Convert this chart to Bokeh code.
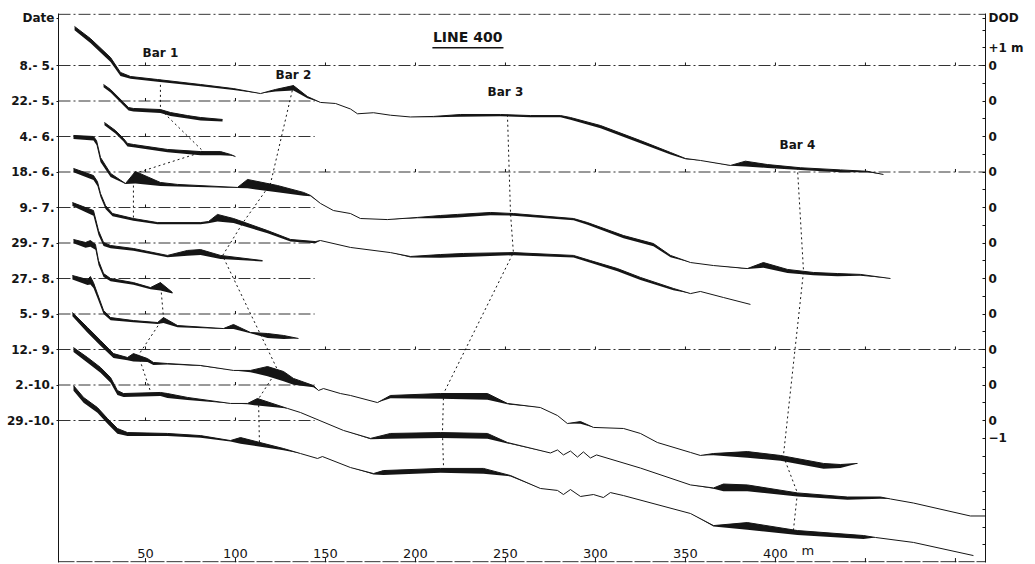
import numpy as np
from bokeh.plotting import figure
from bokeh.models import LinearAxis, FixedTicker, Span, Range1d
from bokeh.embed import file_html
from bokeh.resources import INLINE
from bokeh.core.properties import value

# ---------------- data ----------------
dates = ["8.- 5.", "22.- 5.", "4.- 6.", "18.- 6.", "9.- 7.", "29.- 7.",
         "27.- 8.", "5.- 9.", "12.- 9.", "2.-10.", "29.-10."]
SPACING = 2                       # m between successive DOD reference lines
full_ref = [True, False, False, True, False, False, False, False, True, False, False]
short_ref_end = 144.0             # m, end of the short reference lines
x_ticks = [50, 100, 150, 200, 250, 300, 350, 400, 450, 500]
x_tick_labels = ["50", "100", "150", "200", "250", "300", "350", "400"]

# distance (m), elevation rel. DOD (m), black (change) thickness (m)
x_0805 = [10.6, 19.4, 30.6, 36.1, 41.7, 56.7, 80.6, 98.9, 113.9, 122.2, 132.2, 140.0, 147.2, 155.6, 163.9, 167.8, 176.7, 186.1, 197.2, 210.0, 225.0, 247.2, 263.9, 280.6, 286.1, 302.8, 325.0, 341.7, 350.0, 358.3, 375.0, 383.3, 395.6, 413.9, 436.1, 451.1, 460.0]
z_0805 = [2.20, 1.52, 0.45, -0.39, -0.62, -0.79, -1.07, -1.30, -1.58, -1.35, -1.13, -1.75, -2.08, -2.14, -2.45, -2.72, -2.66, -2.80, -2.90, -2.87, -2.76, -2.76, -2.82, -2.82, -2.93, -3.38, -4.23, -4.90, -5.24, -5.35, -5.63, -5.39, -5.58, -5.76, -5.88, -5.96, -6.14]
t_0805 = [0.22, 0.25, 0.25, 0.20, 0.12, 0.12, 0.10, 0.08, 0.0, 0.11, 0.28, 0.10, 0.0, 0, 0, 0, 0, 0, 0, 0.05, 0.12, 0.10, 0.10, 0.10, 0.12, 0.15, 0.15, 0.12, 0.04, 0.0, 0.02, 0.30, 0.19, 0.12, 0.13, 0.05, 0.0]

x_2205 = [26.7, 30.6, 37.8, 40.6, 43.3, 58.3, 63.9, 73.3, 80.6, 92.8]
z_2205 = [0.93, 0.65, -0.08, -0.37, -0.42, -0.48, -0.65, -0.82, -0.93, -1.04]
t_2205 = [0.15, 0.17, 0.17, 0.17, 0.17, 0.20, 0.20, 0.17, 0.17, 0.12]

x_0406 = [27.2, 33.3, 37.8, 40.0, 43.3, 62.2, 80.6, 91.7, 97.2, 100.0]
z_0406 = [0.79, 0.34, -0.11, -0.39, -0.45, -0.73, -0.85, -0.85, -1.01, -1.13]
t_0406 = [0.15, 0.17, 0.17, 0.17, 0.15, 0.15, 0.20, 0.20, 0.08, 0.0]

x_1806 = [10.0, 21.1, 22.8, 25.0, 30.6, 38.9, 44.4, 58.3, 67.8, 101.1, 106.7, 123.3, 137.8, 141.7, 147.2, 154.4, 163.9, 169.4, 184.4, 201.1, 213.9, 223.3, 241.7, 254.4, 287.8, 295.6, 315.6, 332.2, 341.7, 352.8, 365.6, 384.4, 393.3, 406.7, 421.1, 434.4, 447.2, 463.9]
z_1806 = [2.06, 2.00, 1.77, 0.82, -0.08, -0.65, 0.03, -0.59, -0.70, -0.87, -0.42, -0.76, -1.15, -1.32, -1.77, -2.17, -2.34, -2.62, -2.68, -2.56, -2.45, -2.39, -2.28, -2.34, -2.62, -2.85, -3.58, -4.03, -4.70, -5.10, -5.27, -5.44, -5.10, -5.49, -5.66, -5.72, -5.77, -6.00]
t_1806 = [0.20, 0.22, 0.25, 0.25, 0.20, 0.03, 0.68, 0.20, 0.11, 0.03, 0.50, 0.38, 0.19, 0.05, 0.0, 0, 0, 0, 0, 0.05, 0.15, 0.18, 0.15, 0.12, 0.10, 0.12, 0.15, 0.15, 0.10, 0.0, 0, 0.03, 0.30, 0.20, 0.15, 0.15, 0.08, 0.0]

x_0907 = [10.0, 21.1, 23.3, 25.0, 27.8, 31.7, 43.3, 56.7, 80.6, 85.0, 90.0, 98.9, 117.8, 130.6, 144.4, 147.2, 163.9, 186.1, 197.2, 213.9, 226.7, 254.4, 287.8, 297.2, 312.2, 325.0, 343.3, 352.8, 358.3, 371.1, 386.1]
z_0907 = [2.20, 1.80, 1.46, 0.79, 0.11, -0.34, -0.62, -0.85, -0.85, -0.79, -0.39, -0.62, -1.30, -1.80, -1.92, -1.86, -2.25, -2.54, -2.76, -2.65, -2.59, -2.54, -2.70, -2.99, -3.44, -3.94, -4.56, -4.85, -4.73, -5.07, -5.46]
t_0907 = [0.22, 0.25, 0.25, 0.20, 0.20, 0.15, 0.12, 0.10, 0.10, 0.10, 0.40, 0.25, 0.15, 0.12, 0.10, 0.0, 0, 0, 0.05, 0.18, 0.20, 0.15, 0.12, 0.12, 0.15, 0.15, 0.10, 0.0, 0, 0, 0]

x_2907 = [9.4, 21.1, 23.9, 26.7, 30.6, 43.3, 62.2, 73.3, 80.6, 91.7, 115.0]
z_2907 = [2.28, 1.83, 0.70, 0.03, -0.14, -0.31, -0.70, -0.42, -0.37, -0.70, -0.99]
t_2907 = [0.20, 0.30, 0.25, 0.20, 0.15, 0.12, 0.10, 0.30, 0.30, 0.20, 0.05]

x_2708 = [10.0, 16.7, 19.4, 22.2, 23.9, 26.7, 30.6, 43.3, 52.8, 58.3, 65.0]
z_2708 = [2.20, 2.03, 2.14, 1.92, 1.01, 0.28, 0.00, -0.23, -0.51, -0.23, -0.79]
t_2708 = [0.22, 0.30, 0.35, 0.30, 0.25, 0.20, 0.15, 0.12, 0.10, 0.45, 0.05]

x_0509 = [9.4, 17.8, 19.4, 21.1, 23.3, 26.7, 30.6, 43.3, 56.7, 60.0, 67.8, 93.3, 98.9, 108.3, 117.8, 126.7, 135.0]
z_0509 = [2.17, 1.94, 2.11, 1.77, 1.15, 0.20, -0.20, -0.37, -0.48, -0.20, -0.65, -0.82, -0.59, -1.04, -1.10, -1.21, -1.38]
t_0509 = [0.22, 0.30, 0.45, 0.30, 0.25, 0.20, 0.15, 0.10, 0.08, 0.30, 0.10, 0.03, 0.25, 0.05, 0.25, 0.20, 0.0]

x_1209 = [9.4, 17.8, 25.0, 32.2, 40.0, 43.3, 51.1, 54.4, 62.2, 80.6, 98.9, 108.3, 117.8, 126.7, 132.2, 143.3, 146.1, 148.9, 158.3, 163.9, 178.9, 186.1, 213.9, 240.0, 251.1, 269.4, 278.9, 284.4, 291.7, 298.9, 315.6, 325.0, 334.4, 352.8, 358.3, 365.6, 384.4, 402.8, 426.7, 436.1, 445.6]
z_1209 = [2.08, 1.24, 0.51, -0.23, -0.45, -0.23, -0.51, -0.73, -0.79, -0.90, -1.18, -1.18, -0.96, -1.24, -1.63, -2.03, -2.31, -2.20, -2.48, -2.59, -2.99, -2.59, -2.48, -2.48, -3.04, -3.27, -3.72, -4.17, -4.06, -4.39, -4.45, -4.73, -5.24, -5.80, -5.97, -5.86, -5.75, -5.97, -6.42, -6.48, -6.42]
t_1209 = [0.20, 0.30, 0.30, 0.25, 0.15, 0.45, 0.20, 0.15, 0.05, 0.03, 0.0, 0.10, 0.55, 0.55, 0.35, 0.10, 0.0, 0, 0, 0, 0.0, 0.15, 0.30, 0.35, 0.05, 0.0, 0, 0.0, 0.12, 0.0, 0, 0, 0, 0, 0.0, 0.10, 0.35, 0.30, 0.30, 0.20, 0.0]

x_0210 = [10.0, 17.8, 25.0, 30.6, 34.4, 37.8, 58.3, 62.2, 73.3, 97.2, 106.7, 112.2, 128.9, 136.1, 160.0, 175.0, 186.1, 213.9, 240.0, 251.1, 275.0, 278.9, 282.2, 286.1, 290.0, 293.3, 297.2, 300.6, 325.0, 352.8, 365.6, 371.1, 384.4, 412.2, 440.0, 458.3, 463.9, 476.7, 508.3, 516.7]
z_0210 = [2.11, 1.55, 0.99, 0.42, -0.31, -0.48, -0.42, -0.48, -0.70, -1.04, -1.04, -0.76, -1.32, -1.55, -2.56, -3.01, -2.73, -2.68, -2.73, -3.24, -3.83, -3.66, -3.94, -3.72, -4.06, -3.77, -4.11, -3.94, -4.68, -5.63, -5.80, -5.58, -5.63, -6.08, -6.31, -6.31, -6.42, -6.65, -7.38, -7.38]
t_0210 = [0.25, 0.30, 0.30, 0.30, 0.25, 0.20, 0.20, 0.25, 0.15, 0.0, 0.05, 0.40, 0.0, 0, 0, 0.05, 0.30, 0.30, 0.30, 0.05, 0.0, 0, 0, 0, 0, 0, 0, 0, 0, 0.0, 0.05, 0.40, 0.35, 0.20, 0.15, 0.10, 0.0, 0, 0, 0]

x_2910 = [10.0, 15.6, 23.3, 28.9, 34.4, 40.0, 62.2, 80.6, 97.2, 102.8, 126.7, 136.1, 145.6, 148.3, 163.9, 176.7, 182.2, 213.9, 237.8, 252.8, 269.4, 278.9, 282.2, 286.1, 291.7, 298.9, 304.4, 308.3, 315.6, 352.8, 365.6, 384.4, 412.2, 448.9, 455.6, 476.7, 510.0]
z_2910 = [1.97, 1.30, 0.73, 0.11, -0.45, -0.68, -0.73, -0.85, -1.13, -0.96, -1.58, -1.86, -2.14, -2.03, -2.65, -2.99, -2.82, -2.70, -2.70, -3.10, -3.83, -3.94, -4.17, -3.89, -4.28, -4.17, -4.34, -4.06, -4.23, -5.24, -5.92, -5.75, -6.20, -6.48, -6.59, -6.87, -7.61]
t_2910 = [0.30, 0.30, 0.30, 0.30, 0.30, 0.20, 0.15, 0.12, 0.05, 0.35, 0.10, 0.0, 0, 0, 0, 0.05, 0.25, 0.25, 0.30, 0.05, 0.0, 0, 0, 0, 0, 0, 0, 0, 0, 0.0, 0.05, 0.40, 0.25, 0.20, 0.0, 0, 0]

profiles = [(x_0805, z_0805, t_0805), (x_2205, z_2205, t_2205), (x_0406, z_0406, t_0406),
            (x_1806, z_1806, t_1806), (x_0907, z_0907, t_0907), (x_2907, z_2907, t_2907),
            (x_2708, z_2708, t_2708), (x_0509, z_0509, t_0509), (x_1209, z_1209, t_1209),
            (x_0210, z_0210, t_0210), (x_2910, z_2910, t_2910)]

# bar crest tracks: (survey index, crest distance m)
bar_names = ["Bar 1", "Bar 2", "Bar 3", "Bar 4"]
bar_label_x = [58.3, 132.2, 250.0, 412.2]
bar_label_z = [0.73, -0.56, -1.52, -4.5]
crest_tracks = [
    ([0, 1, 2, 3, 4], [58.3, 58.3, 82.2, 43.3, 43.3]),
    ([6, 7, 8, 9], [58.3, 60.0, 46.0, 53.0]),
    ([0, 3, 4, 5, 8, 9, 10], [132.2, 119.4, 104.4, 92.8, 123.3, 112.8, 113.3]),
    ([0, 3, 4, 8, 9, 10], [251.1, 252.8, 254.4, 215.6, 215.0, 215.6]),
    ([0, 3, 8, 9, 10], [412.2, 415.6, 404.4, 412.2, 410.0]),
]

# ---------------- figure ----------------
X0, X1 = 1.67, 516.7
Y0, Y1 = -28.0, 2.93
FONT = "DejaVu Sans"
INK = "#151515"

p = figure(width=1035, height=564, x_range=Range1d(X0, X1), y_range=Range1d(Y0, Y1),
           output_backend="svg", toolbar_location=None,
           x_axis_location=None, y_axis_location=None,
           min_border_left=58, min_border_right=50, min_border_top=13, min_border_bottom=2)
p.outline_line_color = None
p.background_fill_color = "white"
p.grid.visible = False

# left axis: survey dates
left_ticks = [2.65] + [-SPACING * i for i in range(len(dates))]
left_over = {2.65: "Date"}
for i, d in enumerate(dates):
    left_over[-SPACING * i] = d
lax = LinearAxis(ticker=FixedTicker(ticks=left_ticks), major_label_overrides=left_over,
                 major_tick_in=0, major_tick_out=2, minor_tick_line_color=None,
                 major_label_standoff=2, axis_line_color=INK, major_tick_line_color=INK,
                 major_label_text_font=FONT, major_label_text_font_style="bold",
                 major_label_text_font_size="12px", major_label_text_color=INK)
p.add_layout(lax, "left")

# right axis: DOD, metres
right_ticks = [2.65] + list(range(2, -28, -1))
right_over = {t: "" for t in right_ticks}
right_over[2.65] = "DOD"
right_over[1] = "+1 m"
for i in range(len(dates)):
    right_over[-SPACING * i] = "0"
right_over[-SPACING * (len(dates) - 1) - 1] = "\u22121"
rax = LinearAxis(ticker=FixedTicker(ticks=right_ticks), major_label_overrides=right_over,
                 major_tick_in=3, major_tick_out=0, minor_tick_line_color=None,
                 major_label_standoff=3, axis_line_color=INK, major_tick_line_color=INK,
                 major_label_text_font=FONT, major_label_text_font_style="bold",
                 major_label_text_font_size="12px", major_label_text_color=INK)
p.add_layout(rax, "right")

# frame top / bottom
p.add_layout(Span(location=Y1 - 0.04, dimension="width", line_color=INK, line_width=1, line_dash="12 3 2 3"))
p.add_layout(Span(location=Y0 + 0.04, dimension="width", line_color=INK, line_width=1, line_dash="16 2"))
p.segment(x0=x_ticks, x1=x_ticks, y0=[Y0] * len(x_ticks), y1=[Y0 + 0.25] * len(x_ticks),
          line_color=INK, line_width=1)
p.text(x=x_ticks[:len(x_tick_labels)], y=[Y0 + 0.28] * len(x_tick_labels), text=x_tick_labels,
       text_font=value(FONT), text_font_size="13px", text_align="center",
       text_baseline="bottom", text_color=INK)
p.text(x=[418.0], y=[Y0 + 0.28], text=["m"], text_font=value(FONT), text_font_size="13px",
       text_align="center", text_baseline="bottom", text_color=INK)

# DOD reference lines with small ticks
xs_ref, ys_ref, tx, ty = [], [], [], []
for i in range(len(dates)):
    base = -SPACING * i
    end = X1 if full_ref[i] else short_ref_end
    xs_ref.append([X0, end])
    ys_ref.append([base, base])
    for t in x_ticks:
        if t < end:
            tx.append(t)
            ty.append(base)
p.multi_line(xs=xs_ref, ys=ys_ref, line_color="#333333", line_width=1, line_dash="12 3 2 3")
p.segment(x0=tx, x1=tx, y0=ty, y1=[v + 0.17 for v in ty], line_color=INK, line_width=1)

# profiles
for i, (x, z, t) in enumerate(profiles):
    assert len(x) == len(z) == len(t), i
    x = np.array(x, float)
    y = np.array(z, float) - SPACING * i
    tt = np.array(t, float)
    p.varea(x=x, y1=y - tt, y2=y, fill_color=INK)
    p.line(x, y, line_color=INK, line_width=1)

# bar crest tracks (dotted)
for idx, xs in crest_tracks:
    ys = []
    for k, xc in zip(idx, xs):
        px, pz, _ = profiles[k]
        ys.append(float(np.interp(xc, px, pz)) - SPACING * k)
    p.line(xs, ys, line_color=INK, line_width=1, line_dash="2 3")

# labels
p.text(x=bar_label_x, y=bar_label_z, text=bar_names, text_font=value(FONT),
       text_font_style="bold", text_font_size="12px", text_align="center",
       text_baseline="middle", text_color=INK)
p.text(x=[229.0], y=[1.58], text=["LINE 400"], text_font=value(FONT),
       text_font_style="bold", text_font_size="14px", text_align="center",
       text_baseline="middle", text_color=INK)
p.segment(x0=[209.4], x1=[248.9], y0=[1.0], y1=[1.0], line_color=INK, line_width=1.5)

open("out.html", "w").write(file_html(p, INLINE))
